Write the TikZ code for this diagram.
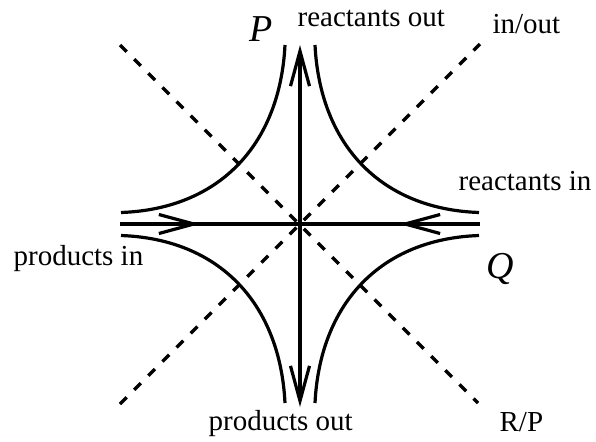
\documentclass[tikz,border=0pt]{standalone}
\usepackage{fontspec}
\setmainfont{Liberation Serif}
\usepackage{tikz}
\usetikzlibrary{arrows.meta}

\begin{document}
\begin{tikzpicture}[x=0.5pt, y=-0.5pt, line width=1.6pt,
  barb/.tip={Straight Barb[length=17.5pt, width=9.5pt]},
  sep/.style={dash pattern=on 4.75pt off 5.25pt},
  branch/.style={line cap=butt},
  lab/.style={inner sep=0pt, anchor=base west, font=\fontsize{14.5}{17}\selectfont},
  var/.style={inner sep=0pt, anchor=base west, font=\fontsize{19}{22}\selectfont\itshape}]
  \useasboundingbox (0,0) rectangle (596,441);
  % end points of the axes
  \coordinate (O) at (300,224);
  \coordinate (W) at (120,224);
  \coordinate (E) at (480,224);
  \coordinate (N) at (300,45);
  \coordinate (S) at (300,407);
  \coordinate (aW) at (200,224);
  \coordinate (aE) at (399,224);
  % separatrices
  \coordinate (NW) at (120,45);
  \coordinate (SE) at (478,403);
  \coordinate (NE) at (480,44);
  \coordinate (SW) at (120,404);
  \draw[sep] (NW) -- (SE);
  \draw[sep] (SW) -- (NE);
  % trajectories
  \draw[branch] (315,45) .. controls (320,144) and (380,209) .. (479,212.5);
  \draw[branch] (285,45) .. controls (280,144) and (220,209) .. (121,212.5);
  \draw[branch] (315,403) .. controls (320,304) and (380,239) .. (479,235.5);
  \draw[branch] (285,403) .. controls (280,304) and (220,239) .. (121,235.5);
  % axes with flow direction
  \draw (W) -- (E);
  \draw[-barb] (W) -- (aW);
  \draw[-barb] (E) -- (aE);
  \draw[barb-barb] (S) -- (N);
  % labels
  \node[var] (labP) at (248,41) {P};
  \node[var] (labQ) at (485,278) {Q};
  \node[lab] (rout) at (296,26) {reactants out};
  \node[lab] (inout) at (491,33) {in/out};
  \node[lab] (rin) at (457,190) {reactants in};
  \node[lab] (pin) at (12,265) {products in};
  \node[lab] (pout) at (207,430) {products out};
  \node[lab] (rp) at (498,431) {R/P};
\end{tikzpicture}
\end{document}
